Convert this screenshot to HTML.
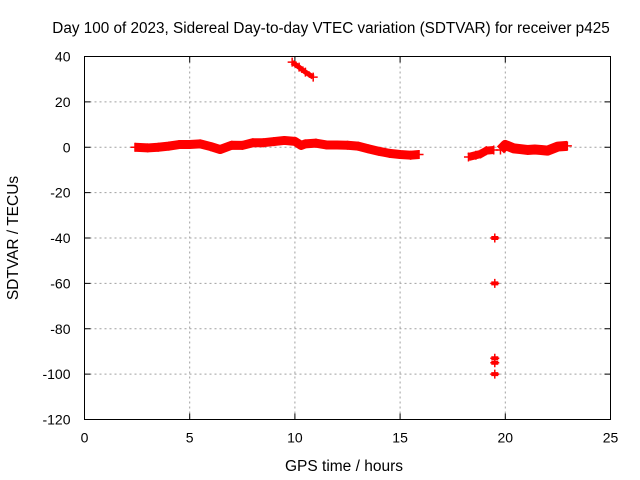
<!DOCTYPE html>
<html><head><meta charset="utf-8"><style>
body{margin:0;background:#fff}
svg{display:block;font-family:"Liberation Sans",Arial,sans-serif}
</style></head><body>
<svg id="chart" width="640" height="480" viewBox="0 0 640 480">
<rect width="640" height="480" fill="#fff"/>
<text x="331" y="33" text-anchor="middle" font-size="15.3">Day 100 of 2023, Sidereal Day-to-day VTEC variation (SDTVAR) for receiver p425</text>
<g id="grid"></g>
<g id="axes"></g>
<g id="marks"></g>
<text x="344" y="471" text-anchor="middle" font-size="15.5">GPS time / hours</text>
<text transform="translate(18,238) rotate(-90)" text-anchor="middle" font-size="15.5">SDTVAR / TECUs</text>
</svg>
<script>
const xTicks=[0,5,10,15,20,25];
const yTicks=[40,20,0,-20,-40,-60,-80,-100,-120];
const hours1=[2.4,3.0,3.5,4.0,4.5,5.0,5.5,6.0,6.45,7.0,7.5,8.0,8.5,9.0,9.5,10.0,10.3,10.5,11.0,11.5,12.0,12.5,13.0,13.5,14.0,14.5,15.0,15.5,15.9];
const vals1=[0,-0.3,0,0.5,1.2,1.2,1.5,0.3,-1,0.9,0.8,2,2,2.5,3,2.6,0.8,1.5,1.8,1,1,0.9,0.5,-0.7,-1.8,-2.7,-3.2,-3.5,-3.2];
const hours2=[9.87,10.2,10.5,10.87];
const vals2=[37.5,35.3,33.1,30.9];
const hours3=[18.25,18.6,18.82,19.1,19.45];
const vals3=[-4.3,-3.5,-3,-1.5,-1.2];
const hours4=[19.77,20.0,20.4,20.7,21.05,21.4,21.7,22.0,22.5,22.95];
const vals4=[-1.2,1.0,-0.5,-0.8,-1.2,-1.0,-1.2,-1.5,0.3,0.6];
const outHours=[19.5,19.5,19.5,19.5,19.5];
const outVals=[-40,-60,-93,-95,-100];
const X0=84.5,X1=610.5,Y0=56.5,Y1=419.5;
function xs(h){return X0+(h-0)/(25-0)*(X1-X0);}
function ys(v){return Y1-(v-(-120))/(40-(-120))*(Y1-Y0);}
const NS="http://www.w3.org/2000/svg";
function mk(t,a,p){const e=document.createElementNS(NS,t);for(const k in a)e.setAttribute(k,a[k]);p.appendChild(e);return e;}
const grid=document.getElementById('grid'),axes=document.getElementById('axes'),marks=document.getElementById('marks');
xTicks.forEach(t=>{
 const x=xs(t);
 if(t>0&&t<25){const g=mk('line',{x1:x,x2:x,y1:Y0,y2:Y1,stroke:'#a0a0a0','stroke-dasharray':'2,3'},grid);
 
 }
 const tk=mk('line',{x1:x,x2:x,y1:Y1,y2:Y1-6,stroke:'#000'},axes);
 
 
 mk('line',{x1:x,x2:x,y1:Y0,y2:Y0+6,stroke:'#000'},axes);
 const l=mk('text',{x:x,y:Y1+23,'text-anchor':'middle','font-size':14},axes);l.textContent=t;
 
 
});
yTicks.forEach(t=>{
 const y=ys(t);
 if(t>-120&&t<40){const g=mk('line',{x1:X0,x2:X1,y1:y,y2:y,stroke:'#a0a0a0','stroke-dasharray':'2,3'},grid);
 
 }
 const tk=mk('line',{x1:X0,x2:X0+6,y1:y,y2:y,stroke:'#000'},axes);
 
 
 mk('line',{x1:X1,x2:X1-6,y1:y,y2:y,stroke:'#000'},axes);
 const l=mk('text',{x:X0-14,y:y+5,'text-anchor':'end','font-size':14},axes);l.textContent=t;
 
 
});
const fr=mk('rect',{x:X0,y:Y0,width:X1-X0,height:Y1-Y0,fill:'none',stroke:'#000'},axes);


function band(H,V,w,name){
 const pts=H.map((h,i)=>xs(h)+','+ys(V[i])).join(' ');
 const p=mk('polyline',{points:pts,fill:'none',stroke:'#f00','stroke-width':w,'stroke-linejoin':'round','stroke-linecap':'butt'},marks);
 
 
 H.forEach((h,i)=>plus(h,V[i]));
}
function plus(h,v){
 const x=xs(h),y=ys(v);
 const p=mk('path',{d:`M${x-4.5},${y}H${x+4.5}M${x},${y-4.5}V${y+4.5}`,stroke:'#f00','stroke-width':1.5},marks);
 
 
}
band(hours1,vals1,9,'series-morning-band');
band(hours2,vals2,5,'series-high-outlier-band');
band(hours3,vals3,8,'series-evening-band-a');
band(hours4,vals4,10,'series-evening-band-b');
outHours.forEach((h,i)=>{
 plus(h,outVals[i]);
 const r=mk('rect',{x:xs(h)-3.5,y:ys(outVals[i])-2,width:7,height:4,fill:'#f00'},marks);
 
 
});
</script>
</body></html>
